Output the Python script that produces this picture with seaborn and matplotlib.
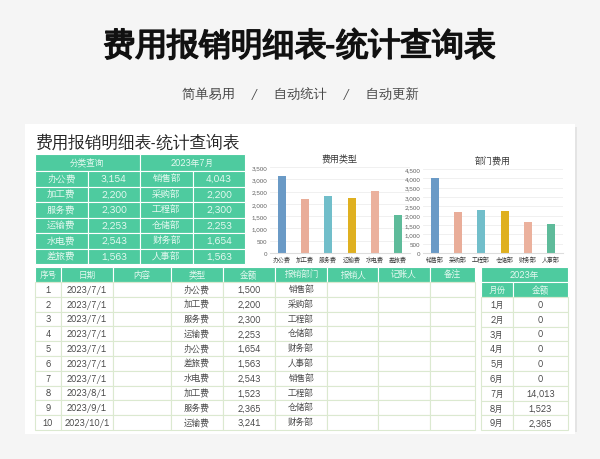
import matplotlib
matplotlib.use("Agg")
import matplotlib.pyplot as plt
import matplotlib.patheffects as pe
import seaborn as sns
import pandas as pd
from matplotlib.patches import Rectangle

plt.rcParams["font.family"] = ["WenQuanYi Zen Hei", "DejaVu Sans"]

# data
type_names = ["办公费", "加工费", "服务费", "运输费", "水电费", "差旅费"]
type_values = [3154, 2200, 2300, 2253, 2543, 1563]
dept_names = ["销售部", "采购部", "工程部", "仓储部", "财务部", "人事部"]
dept_values = [4043, 2200, 2300, 2253, 1654, 1563]
bar_colors = ["#5b9bd5", "#f6a78c", "#62c9d9", "#ffc000", "#f8ab90", "#4ecb9f"]

row_no = list(range(1, 11))
row_dates = ["2023/7/1"] * 7 + ["2023/8/1", "2023/9/1", "2023/10/1"]
row_types = ["办公费", "加工费", "服务费", "运输费", "办公费", "差旅费", "水电费", "加工费", "服务费", "运输费"]
row_amounts = [1500, 2200, 2300, 2253, 1654, 1563, 2543, 1523, 2365, 3241]
row_depts = ["销售部", "采购部", "工程部", "仓储部", "财务部", "人事部", "销售部", "工程部", "仓储部", "财务部"]
months = ["1月", "2月", "3月", "4月", "5月", "6月", "7月", "8月", "9月"]
month_amounts = [0, 0, 0, 0, 0, 0, 14013, 1523, 2365]

GREEN = "#4ecb9f"
LINE = "#dbe9d0"
TXT = "#444444"
HEAD_TXT = "#eafaf3"

fig = plt.figure(figsize=(6, 4.6), dpi=100)
fig.patch.set_facecolor("#f5f5f5")
bg = fig.add_axes([0, 0, 1, 1])
bg.set_xlim(0, 600)
bg.set_ylim(460, 0)
bg.axis("off")

bg.text(300, 45, "费用报销明细表-统计查询表", ha="center", va="center", fontsize=23, color="#111111",
        path_effects=[pe.withStroke(linewidth=1.2, foreground="#111111")])
bg.text(300, 93, "简单易用    /    自动统计    /    自动更新", ha="center", va="center", fontsize=9.5, color="#444444")

# card with shadow
bg.add_patch(Rectangle((27, 128), 550, 340, facecolor="#e4e4e4", edgecolor="none"))
bg.add_patch(Rectangle((25, 125), 550, 340, facecolor="white", edgecolor="none"))
bg.text(35, 142, "费用报销明细表-统计查询表", ha="left", va="center", fontsize=12, color="#222222")


def cell(x0, x1, y0, y1, text, fill=None, color=TXT, size=6.2, edge=LINE):
    bg.add_patch(Rectangle((x0, y0), x1 - x0, y1 - y0, facecolor=fill or "white", edgecolor=edge, linewidth=0.8))
    if text != "":
        bg.text((x0 + x1) / 2, (y0 + y1) / 2, text, ha="center", va="center", fontsize=size, color=color)


# summary table
sx = [35, 88, 140, 193, 245]
cell(sx[0], sx[2], 155, 172, "分类查询", GREEN, HEAD_TXT, edge="white")
cell(sx[2], sx[4], 155, 172, "2023年7月", GREEN, HEAD_TXT, edge="white")
for i in range(6):
    y0 = 172 + i * 15.5
    vals = [type_names[i], f"{type_values[i]:,}", dept_names[i], f"{dept_values[i]:,}"]
    for j in range(4):
        cell(sx[j], sx[j + 1], y0, y0 + 15.5, vals[j], GREEN, HEAD_TXT, size=6.8, edge="white")

# detail table
cx = [35, 61, 113, 171, 223, 275, 327, 378, 430, 475]
heads = ["序号", "日期", "内容", "类型", "金额", "报销部门", "报销人", "记账人", "备注"]
for j, h in enumerate(heads):
    cell(cx[j], cx[j + 1], 268, 283, h, GREEN, HEAD_TXT, edge="white")
rh = 14.8
for i in range(10):
    y0 = 283 + i * rh
    vals = [str(row_no[i]), row_dates[i], "", row_types[i], f"{row_amounts[i]:,}", row_depts[i], "", "", ""]
    for j in range(9):
        cell(cx[j], cx[j + 1], y0, y0 + rh, vals[j])

# month table
mx = [481, 513, 568]
cell(mx[0], mx[2], 268, 283, "2023年", GREEN, HEAD_TXT, edge="white")
cell(mx[0], mx[1], 283, 298, "月份", GREEN, HEAD_TXT, edge="white")
cell(mx[1], mx[2], 283, 298, "金额", GREEN, HEAD_TXT, edge="white")
for i in range(9):
    y0 = 298 + i * rh
    cell(mx[0], mx[1], y0, y0 + rh, months[i])
    cell(mx[1], mx[2], y0, y0 + rh, f"{month_amounts[i]:,}")

# cover bottom so table looks cut off
bg.add_patch(Rectangle((0, 433), 600, 30, facecolor="#f5f5f5", edgecolor="none", zorder=5))
bg.add_patch(Rectangle((25, 433), 550, 2, facecolor="white", edgecolor="none", zorder=6))


def bar_chart(rect, names, values, title, ymax, step):
    ax = fig.add_axes(rect)
    df = pd.DataFrame({"name": names, "value": values})
    sns.barplot(data=df, x="name", y="value", hue="name", palette=bar_colors, legend=False, width=0.35, ax=ax)
    ax.set_ylim(0, ymax)
    ax.set_yticks(range(0, ymax + 1, step))
    ax.set_yticklabels([f"{v:,}" for v in range(0, ymax + 1, step)], fontsize=4.2, color="#555555")
    ax.tick_params(axis="x", labelsize=4.3, colors="#333333", length=0, pad=2)
    ax.tick_params(axis="y", length=0, pad=2)
    ax.set_xlabel("")
    ax.set_ylabel("")
    ax.set_title(title, fontsize=6.5, color="#333333", pad=4)
    ax.grid(axis="y", color="#eeeeee", linewidth=0.6)
    ax.set_axisbelow(True)
    for s in ["top", "right", "left"]:
        ax.spines[s].set_visible(False)
    ax.spines["bottom"].set_color("#dddddd")
    return ax


bar_chart([270 / 600, 1 - 254 / 460, 140 / 600, 86 / 460], type_names, type_values, "费用类型", 3500, 500)
bar_chart([423 / 600, 1 - 254 / 460, 140 / 600, 84 / 460], dept_names, dept_values, "部门费用", 4500, 500)

fig.savefig("out.png", dpi=100, facecolor=fig.get_facecolor())
